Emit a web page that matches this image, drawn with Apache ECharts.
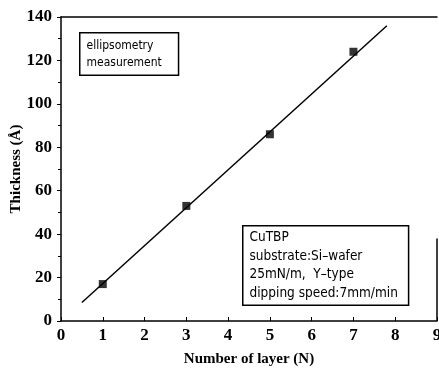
<!DOCTYPE html>
<html>
<head>
<meta charset="utf-8">
<script src="https://cdn.jsdelivr.net/npm/echarts@6/dist/echarts.min.js"></script>
<style>
  html, body { margin: 0; padding: 0; background: #fff; }
  #chart { width: 439px; height: 372px; }
</style>
</head>
<body>
<div id="chart"></div>
<script>
// measured points
const layers = [1, 3, 5, 7]
const thickness = [17, 53, 86, 124]

// fitted straight line (end points)
const fitLayers = [0.5, 7.8]
const fitThickness = [8.5, 136]

const xTicks = ['0', '1', '2', '3', '4', '5', '6', '7', '8', '9']
const yTicks = ['0', '20', '40', '60', '80', '100', '120', '140']

const noteTop = ['ellipsometry', 'measurement']
const noteBottom = ['CuTBP', 'substrate:Si\u2013wafer', '25mN/m,  Y\u2013type', 'dipping speed:7mm/min']

const tickFont = {
  fontFamily: 'Liberation Serif',
  fontWeight: 'bold',
  fontSize: 17,
  color: '#000'
}

const chartDom = document.getElementById('chart')
const chart = echarts.init(chartDom)

const option = {
  animation: false,
  backgroundColor: '#fff',
  grid: {
    left: 61,
    right: 2,
    top: 17,
    bottom: 51,
    containLabel: false,
    outerBoundsMode: 'none'
  },
  xAxis: [
    {
      type: 'value',
      min: 0,
      max: 9,
      interval: 1,
      name: 'Number of layer (N)',
      nameLocation: 'middle',
      nameGap: 31,
      nameMoveOverlap: false,
      nameTextStyle: {
        fontFamily: 'Liberation Serif',
        fontWeight: 'bold',
        fontSize: 15,
        color: '#000'
      },
      axisLine: { lineStyle: { color: '#000', width: 1.5 } },
      axisTick: { inside: true, length: 4, lineStyle: { color: '#000' } },
      axisLabel: {
        ...tickFont,
        margin: 6,
        hideOverlap: false,
        formatter: (v) => xTicks[v]
      },
      splitLine: { show: false }
    },
    {
      type: 'value',
      position: 'top',
      min: 0,
      max: 9,
      axisLine: { show: true, onZero: false, lineStyle: { color: '#000', width: 1.5 } },
      axisTick: { show: false },
      axisLabel: { show: false },
      splitLine: { show: false }
    }
  ],
  yAxis: {
    type: 'value',
    min: 0,
    max: 140,
    interval: 20,
    name: 'Thickness (Å)',
    nameLocation: 'middle',
    nameGap: 37,
    nameRotate: 90,
    nameMoveOverlap: false,
    nameTextStyle: {
      fontFamily: 'Liberation Serif',
      fontWeight: 'bold',
      fontSize: 15,
      color: '#000'
    },
    axisLine: { show: true, lineStyle: { color: '#000', width: 1.5 } },
    axisTick: { show: true, length: 4, lineStyle: { color: '#000' } },
    minorTick: { show: true, splitNumber: 2, length: 3, lineStyle: { color: '#000' } },
    axisLabel: {
      ...tickFont,
      margin: 9,
      formatter: (v) => yTicks[v / 20]
    },
    splitLine: { show: false }
  },
  series: [
    {
      name: 'fit',
      type: 'line',
      data: fitLayers.map((x, i) => [x, fitThickness[i]]),
      symbol: 'none',
      lineStyle: { color: '#000', width: 1.5 },
      markLine: {
        silent: true,
        symbol: 'none',
        label: { show: false },
        lineStyle: { color: '#000', width: 1.5, type: 'solid' },
        data: [[{ coord: [9, 0] }, { coord: [9, 38] }]]
      },
      z: 2
    },
    {
      name: 'ellipsometry',
      type: 'scatter',
      data: layers.map((x, i) => [x, thickness[i]]),
      symbol: 'rect',
      symbolSize: 8,
      itemStyle: { color: '#000' },
      z: 3
    }
  ],
  graphic: [
    {
      type: 'text',
      left: 79,
      top: 32,
      style: {
        text: noteTop.join('\n'),
        fontFamily: 'DejaVu Sans Condensed',
        fontSize: 12,
        lineHeight: 17,
        fill: '#000',
        backgroundColor: '#fff',
        borderColor: '#000',
        borderWidth: 1.5,
        padding: [4, 16, 3, 6]
      }
    },
    {
      type: 'text',
      left: 242,
      top: 225,
      style: {
        text: noteBottom.join('\n'),
        fontFamily: 'DejaVu Sans Condensed',
        fontSize: 13.5,
        lineHeight: 18.5,
        fill: '#000',
        backgroundColor: '#fff',
        borderColor: '#000',
        borderWidth: 1.5,
        padding: [2, 10, 2, 6]
      }
    }
  ]
}

chart.setOption(option)
</script>
</body>
</html>
